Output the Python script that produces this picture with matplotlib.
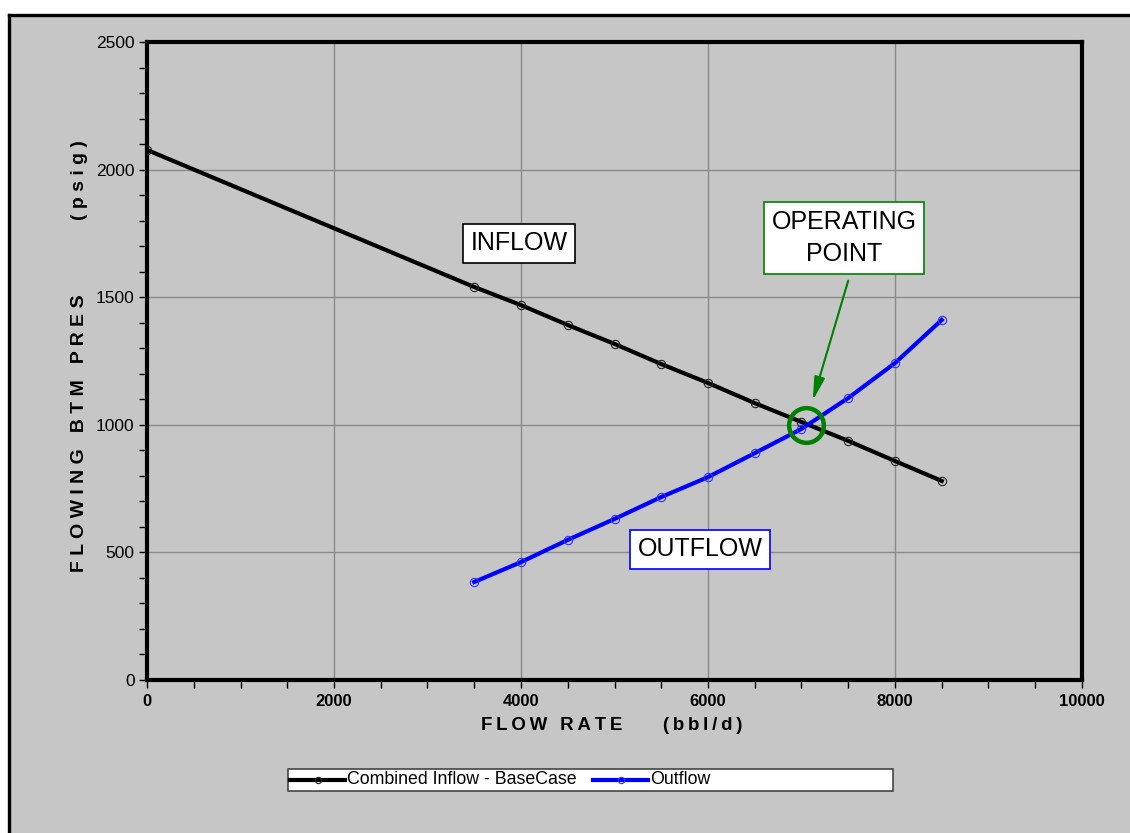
import matplotlib
matplotlib.use("Agg")
import matplotlib.pyplot as plt
from matplotlib.patches import Rectangle
from matplotlib.lines import Line2D
from matplotlib.ticker import MultipleLocator

# Inflow performance (IPR) and outflow (tubing) curves
inflow_rate = [0, 3500, 4000, 4500, 5000, 5500, 6000, 6500, 7000, 7500, 8000, 8500]
inflow_pres = [2077, 1540, 1469, 1391, 1317, 1238, 1164, 1085, 1011, 937, 858, 780]

outflow_rate = [3500, 4000, 4500, 5000, 5500, 6000, 6500, 7000, 7500, 8000, 8500]
outflow_pres = [384, 462, 549, 631, 717, 795, 889, 984, 1105, 1242, 1411]

operating_point = (7048, 999)

series_names = ["Combined Inflow - BaseCase", "Outflow"]
x_ticks = [0, 2000, 4000, 6000, 8000, 10000]
y_ticks = [0, 500, 1000, 1500, 2000, 2500]

BG = "#C6C6C6"
FONT = ["Liberation Sans", "DejaVu Sans"]
THIN = "\u2009"

W, H = 1130, 833
fig = plt.figure(figsize=(W / 100, H / 100), dpi=100, facecolor="white")

# grey panel with black left/top border
fig.patches.append(Rectangle((9 / W, 0), 1, 1 - 15 / H, transform=fig.transFigure,
                             facecolor=BG, edgecolor="none", zorder=-10))
fig.lines.append(Line2D([9 / W, 9 / W], [0, 1 - 15 / H], transform=fig.transFigure,
                        color="black", lw=2.4, solid_capstyle="projecting", zorder=-9))
fig.lines.append(Line2D([9 / W, 1], [1 - 15 / H, 1 - 15 / H], transform=fig.transFigure,
                        color="black", lw=2.4, solid_capstyle="projecting", zorder=-9))


def px(x, y):
    return x / W, 1 - y / H


ax = fig.add_axes([147 / W, 1 - 680 / H, (1082 - 147) / W, (680 - 42) / H])
ax.set_facecolor(BG)
ax.set_xlim(0, 10000)
ax.set_ylim(0, 2500)
ax.set_xticks(x_ticks)
ax.set_yticks(y_ticks)
ax.xaxis.set_minor_locator(MultipleLocator(500))
ax.yaxis.set_minor_locator(MultipleLocator(100))
ax.grid(True, which="major", color="#8A8A8A", lw=1.0)
ax.set_axisbelow(True)
for s in ax.spines.values():
    s.set_linewidth(3.0)
    s.set_color("black")
ax.tick_params(which="both", direction="out", length=6, width=1, color="black")
ax.tick_params(axis="y", which="major", pad=3)
ax.tick_params(axis="x", which="major", pad=4)
for lab in ax.get_yticklabels():
    lab.set_fontfamily(FONT)
    lab.set_fontsize(12.5)
for lab in ax.get_xticklabels():
    lab.set_fontfamily(FONT)
    lab.set_fontsize(12)
    lab.set_fontweight("bold")

ax.plot(inflow_rate, inflow_pres, color="black", lw=3.0, marker="o", ms=6,
        mfc="none", mec="#222222", mew=0.8, zorder=3)
ax.plot(outflow_rate, outflow_pres, color="#0000FF", lw=3.0, marker="o", ms=6,
        mfc="none", mec="#3030FF", mew=0.8, zorder=4)

# operating point marker
ax.plot([operating_point[0]], [operating_point[1]], marker="o", ms=25, mfc="none",
        mec="#008000", mew=3.2, zorder=5, clip_on=False)

# curve annotations
box_pad = "square,pad=0.3"
ax.text(3979, 1712, "INFLOW", fontsize=18, family=FONT, ha="center", va="center",
        bbox=dict(boxstyle=box_pad, fc="white", ec="black", lw=1.2), zorder=6)
ax.text(5914, 513, "OUTFLOW", fontsize=18, family=FONT, ha="center", va="center",
        bbox=dict(boxstyle=box_pad, fc="white", ec="#0000FF", lw=1.2), zorder=6)
ax.text(7455, 1732, "OPERATING\nPOINT", fontsize=18, family=FONT, ha="center",
        va="center", linespacing=1.45,
        bbox=dict(boxstyle=box_pad, fc="white", ec="#008000", lw=1.2), zorder=6)
ax.annotate("", xy=(7112, 1085), xytext=(7508, 1575),
            arrowprops=dict(arrowstyle="-|>,head_length=1.4,head_width=0.32",
                            color="#008000", lw=1.5), zorder=6)

# axis titles with wide letter spacing
yl = dict(fontsize=14, fontweight="bold", family=FONT, rotation=90,
          ha="center", va="center")
fig.text(*px(80, 433), " ".join("FLOWING BTM PRES"), **yl)
fig.text(*px(80, 180), " ".join("(psig)"), **yl)
xl = dict(fontsize=13.5, fontweight="bold", family=FONT, ha="center", va="center")
fig.text(*px(552, 726), THIN.join("FLOW RATE"), **xl)
fig.text(*px(703, 726), THIN.join("(bbl/d)"), **xl)

# legend box
x0, y0 = px(288, 791)
x1, y1 = px(893, 769)
fig.patches.append(Rectangle((x0, y0), x1 - x0, y1 - y0, transform=fig.transFigure,
                             facecolor="white", edgecolor="#444444", lw=1.2, zorder=5))
ly = 780
for (lx0, lx1, txt_x, col, mec), name in zip(
        [(290, 345, 347, "black", "#222222"), (593, 648, 650, "#0000FF", "#3030FF")],
        series_names):
    fig.lines.append(Line2D([lx0 / W, lx1 / W], [1 - ly / H] * 2, transform=fig.transFigure,
                            color=col, lw=3.0, zorder=6))
    fig.lines.append(Line2D([(lx0 + lx1) / 2 / W], [1 - ly / H], transform=fig.transFigure,
                            marker="o", ms=4.5, mfc="none", mec=mec, mew=0.8,
                            linestyle="none", zorder=7))
    fig.text(txt_x / W, 1 - ly / H, name, fontsize=12.8, family=FONT,
             ha="left", va="center", zorder=7)

fig.savefig("out.png", dpi=100, facecolor="white")
